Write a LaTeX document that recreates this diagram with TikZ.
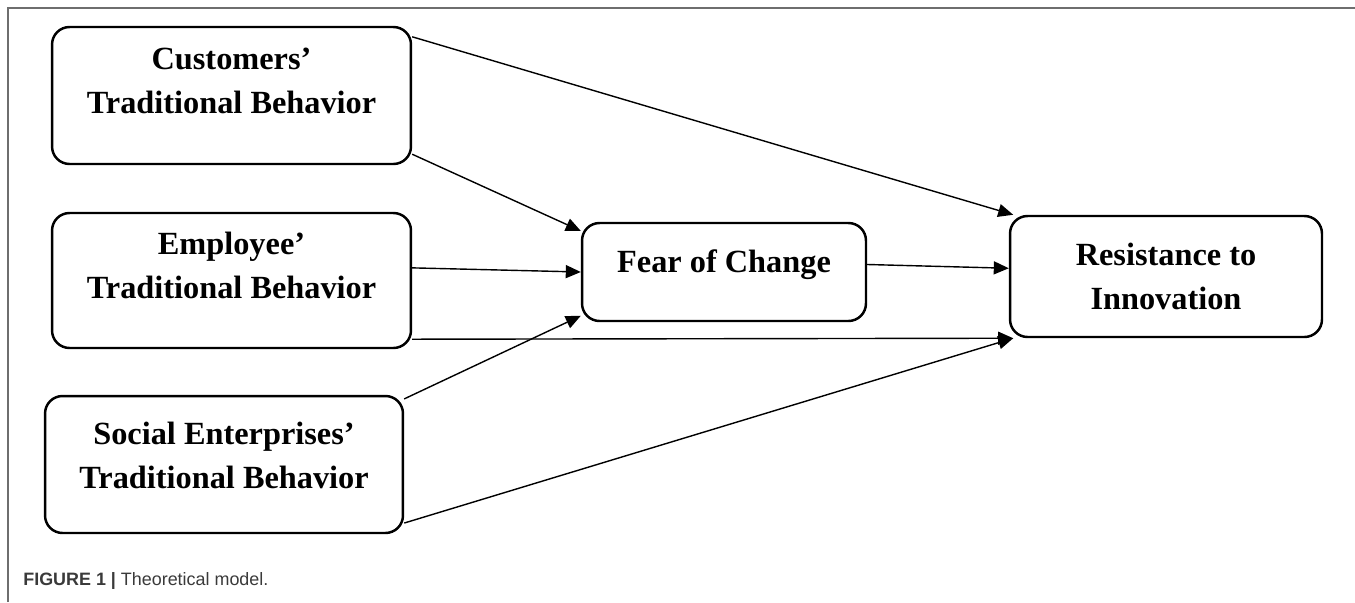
\documentclass[tikz,border=0pt]{standalone}
\usepackage{fontspec}
\setmainfont{Liberation Serif}
\setsansfont{Liberation Sans}
\usepackage{tikz}
\usetikzlibrary{arrows.meta}
\definecolor{framegray}{HTML}{6E6E6E}
\definecolor{capgray}{HTML}{3A3A3A}

\begin{document}
\begin{tikzpicture}[x=0.02cm, y=-0.02cm,
    construct/.style={rectangle, rounded corners=0.35cm, draw=black, line width=1.4pt, minimum width=7.18cm, minimum height=2.74cm},
    boxtext/.style={align=center, font=\fontsize{18.4}{25}\selectfont\bfseries},
    link/.style={-{Triangle[length=0.3cm, width=0.26cm]}, line width=0.8pt}
]
\useasboundingbox (0,0) rectangle (1355,602);

% Frame and caption
\draw[framegray, line width=1.2pt] (8,602) -- (8,8) -- (1355,8);
\node[anchor=base west, inner sep=0pt, text=capgray, font=\sffamily\fontsize{10.2}{12}\selectfont] (caption) at (23,585) {\textbf{FIGURE 1 |} Theoretical model.};

% Three behaviors on the left
\node[construct] (cust) at (231.5,95.5) {};
\node[construct, minimum height=2.7cm] (empl) at (231.5,280.5) {};
\node[construct, minimum width=7.16cm] (soc) at (224,464.5) {};
\node[boxtext] (cust-txt) at (231.5,81) {Customers’\\Traditional Behavior};
\node[boxtext] (empl-txt) at (231.5,265) {Employee’\\Traditional Behavior};
\node[boxtext] (soc-txt) at (224,455) {Social Enterprises’\\Traditional Behavior};

% Mediator and outcome
\node[construct, minimum width=5.68cm, minimum height=1.96cm] (fear) at (724,272) {};
\node[boxtext] (fear-txt) at (724,265) {Fear of Change};
\node[construct, minimum width=6.24cm, minimum height=2.42cm] (resist) at (1166,276.5) {};
\node[boxtext] (resist-txt) at (1166,276.5) {Resistance to\\Innovation};

% Paths
\draw[link] (cust.18) -- (resist.158);
\draw[link] (cust.-18) -- (fear.164);
\draw[link] (empl.4) -- (fear.west);
\draw[link] (empl.-18) -- (resist.202);
\draw[link] (soc.20) -- (fear.197);
\draw[link] (soc.-18) -- (resist.202);
\draw[link] (fear.3) -- (resist.177);
\end{tikzpicture}
\end{document}
